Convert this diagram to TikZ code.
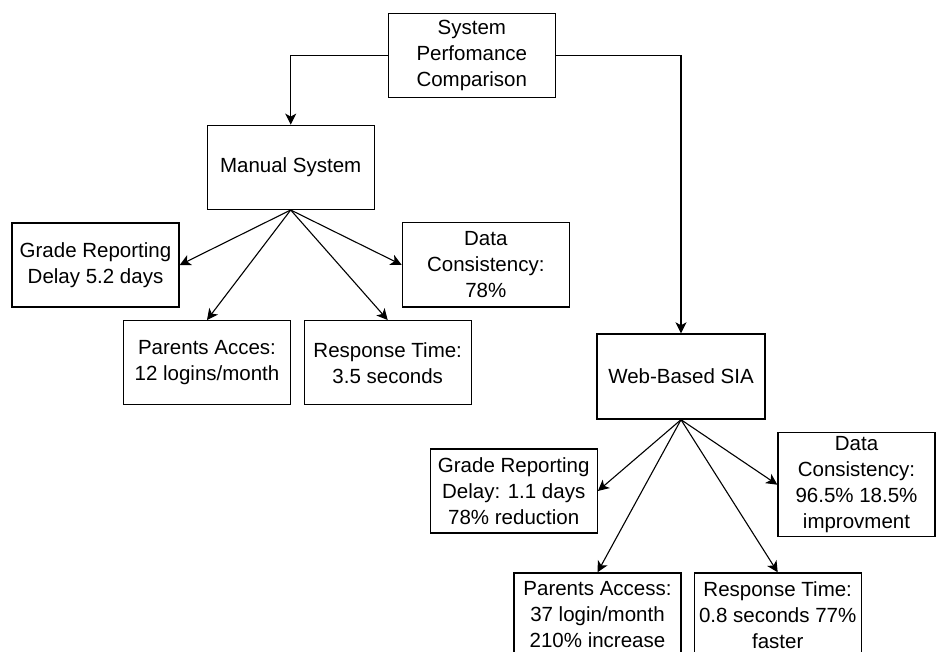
\documentclass[tikz,border=0pt]{standalone}
\usepackage{fontspec}
\setmainfont{Liberation Sans}
\usetikzlibrary{arrows.meta}

\begin{document}
\begin{tikzpicture}[
    x=1pt, y=-1pt,
    every node/.style={draw, line width=1.4pt, minimum width=167pt, minimum height=84pt,
                        inner sep=2pt, align=center, font=\fontsize{20.5}{26}\selectfont},
    link/.style={draw, line width=1.1pt, -{Stealth[length=11pt, width=11pt, inset=3pt]}}
  ]
  \clip (0,0) rectangle (936,652);
  \fill[white] (0,0) rectangle (936,652);

  \node (top) at (471.8,55.5) {System\\Perfomance\\Comparison};

  % manual side
  \node (manual)  at (290.7,167.3) {Manual System};
  \node (mgrade)  at (95.5,265)    {Grade Reporting\\Delay 5.2 days};
  \node (mdata)   at (485.8,264.8) {Data\\Consistency:\\78\%};
  \node (mparent) at (207,362.7)   {Parents Acces:\\12 logins/month};
  \node (mresp)   at (387.7,362.7) {Response Time:\\3.5 seconds};

  % web side
  \node[minimum width=168pt, minimum height=85pt] (web) at (681,376.5) {Web-Based SIA};
  \node (wgrade)  at (513.7,491)   {Grade Reporting\\Delay: 1.1 days\\78\% reduction};
  \node[minimum width=157pt, minimum height=104pt] (wdata) at (856.5,484.7)
        {Data\\Consistency:\\96.5\% 18.5\%\\improvment};
  \node (wparent) at (597.5,615)   {Parents Access:\\37 login/month\\210\% increase};
  \node (wresp)   at (777.7,615)   {Response Time:\\0.8 seconds 77\%\\faster};

  \path[link] (top.west) -| (manual.north);
  \path[link] (top.east) -| (web.north);

  \path[link] (manual.south) -- (mgrade.east);
  \path[link] (manual.south) -- (mparent.north);
  \path[link] (manual.south) -- (mresp.north);
  \path[link] (manual.south) -- (mdata.west);

  \path[link] (web.south) -- (wgrade.east);
  \path[link] (web.south) -- (wparent.north);
  \path[link] (web.south) -- (wresp.north);
  \path[link] (web.south) -- (wdata.west);
\end{tikzpicture}
\end{document}
